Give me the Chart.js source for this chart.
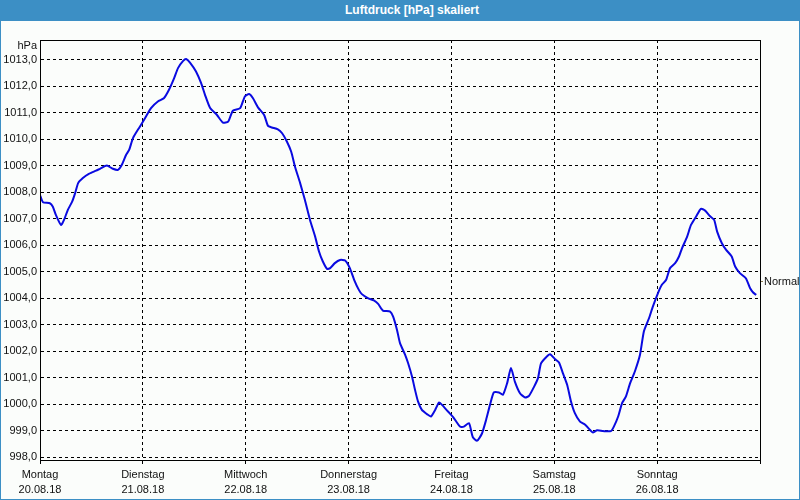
<!DOCTYPE html>
<html>
<head>
<meta charset="utf-8">
<script src="https://cdn.jsdelivr.net/npm/chart.js@4/dist/chart.umd.min.js"></script>
<style>
    html, body { margin: 0; padding: 0; background: #fbfdfb; }
    #wrap { position: relative; width: 800px; height: 500px; }
    #chart { position: absolute; left: 0; top: 0; }
    #title {
        position: absolute; left: 0; top: 0; width: 800px; height: 21px;
        box-sizing: border-box; padding-left: 24px;
        background: #3c8fc5; color: #fff;
        font: bold 12px "Liberation Sans", Arial, sans-serif;
        line-height: 21px; text-align: center;
    }
    #frame {
        position: absolute; left: 0; top: 0; width: 800px; height: 500px;
        box-sizing: border-box; border: 1px solid #3c8fc5; pointer-events: none;
    }
</style>
</head>
<body>
<div id="wrap">
    <canvas id="chart" width="800" height="500"></canvas>
    <div id="title">Luftdruck [hPa] skaliert</div>
    <div id="frame"></div>
</div>
<script>
// hours since Monday 20.08.18 00:00
const hours = [
    0.0, 0.7, 2.3, 3.0, 3.7, 4.9, 5.6, 6.5, 7.5, 8.2, 8.9, 10.0, 11.4, 13.1, 14.0, 15.6,
    17.0, 18.2, 19.1, 20.1, 20.8, 21.7, 23.3, 24.5, 25.9, 27.5, 28.9, 30.1, 31.3, 32.2,
    33.4, 34.1, 35.0, 36.4, 37.6, 38.5, 39.7, 41.3, 42.7, 43.9, 45.0, 46.7, 47.8, 48.8,
    49.7, 50.9, 52.3, 53.2, 54.1, 55.5, 56.5, 57.6, 58.6, 59.5, 60.7, 61.8, 63.0, 64.2,
    65.1, 66.0, 67.0, 67.7, 68.8, 70.0, 71.2, 72.3, 73.3, 74.4, 75.1, 76.5, 77.9, 78.9,
    80.0, 81.7, 82.4, 83.3, 84.0, 85.2, 85.9, 86.8, 87.5, 88.2, 89.1, 90.3, 91.2, 92.2,
    93.1, 93.8, 95.2, 96.4, 98.0, 98.9, 100.1, 101.0, 102.0, 103.1, 104.1, 105.0, 105.9,
    107.1, 108.0, 109.0, 109.9, 110.8, 112.0, 113.2, 114.1, 115.3, 116.2, 116.9, 118.1,
    119.0, 120.2, 121.1, 122.0, 123.0, 123.9, 124.8, 126.0, 127.2, 128.3, 129.0, 130.0,
    131.4, 133.2, 133.9, 134.9, 135.8, 136.7, 137.7, 138.8, 140.0, 140.9, 142.1, 143.0,
    144.2, 145.1, 146.1, 147.0, 148.2, 149.1, 149.8, 151.0, 151.9, 153.1, 154.2, 155.2,
    156.3, 157.3, 158.0, 159.1, 160.1, 161.4, 162.2, 163.3, 164.7, 165.7, 166.4, 167.1
];
const pressure = [
    1007.90, 1007.63, 1007.59, 1007.46, 1007.15, 1006.77, 1006.96, 1007.34, 1007.65, 1007.97, 1008.35, 1008.54, 1008.70, 1008.82, 1008.89, 1009.01,
    1008.89, 1008.85, 1009.04, 1009.42, 1009.60, 1010.05, 1010.48, 1010.80, 1011.18, 1011.43, 1011.55, 1011.87, 1012.31, 1012.69,
    1012.96, 1013.03, 1012.90, 1012.56, 1012.12, 1011.68, 1011.18, 1010.92, 1010.63, 1010.67, 1011.08, 1011.18, 1011.62, 1011.71,
    1011.55, 1011.20, 1010.92, 1010.51, 1010.45, 1010.38, 1010.23, 1009.92, 1009.54, 1008.97, 1008.35, 1007.72, 1006.96, 1006.33,
    1005.77, 1005.39, 1005.11, 1005.14, 1005.33, 1005.45, 1005.43, 1005.14, 1004.70, 1004.32, 1004.16, 1004.01, 1003.92, 1003.79,
    1003.54, 1003.50, 1003.31, 1002.81, 1002.31, 1001.87, 1001.55, 1001.05, 1000.55, 1000.11, 999.79, 999.63, 999.54, 999.79,
    1000.07, 999.98, 999.73, 999.52, 999.16, 999.16, 999.29, 998.76, 998.63, 998.89, 999.42, 999.98, 1000.45,
    1000.45, 1000.36, 1000.80, 1001.37, 1000.86, 1000.42, 1000.26, 1000.32, 1000.67, 1000.99, 1001.55, 1001.78,
    1001.89, 1001.70, 1001.58, 1001.18, 1000.74, 1000.11, 999.67, 999.35, 999.23, 999.04, 998.94, 999.02,
    998.99, 998.99, 999.16, 999.54, 1000.04, 1000.29, 1000.80, 1001.24, 1001.87, 1002.75, 1003.25, 1003.69,
    1004.20, 1004.51, 1004.70, 1005.14, 1005.33, 1005.58, 1005.89, 1006.33, 1006.77, 1007.09, 1007.38, 1007.31,
    1007.11, 1006.96, 1006.52, 1006.08, 1005.83, 1005.58, 1005.20, 1004.95, 1004.76, 1004.38, 1004.22, 1004.13
];

const dayNames = ["Montag", "Dienstag", "Mittwoch", "Donnerstag", "Freitag", "Samstag", "Sonntag"];
const dayDates = ["20.08.18", "21.08.18", "22.08.18", "23.08.18", "24.08.18", "25.08.18", "26.08.18"];
const yTicks = [998, 999, 1000, 1001, 1002, 1003, 1004, 1005, 1006, 1007, 1008, 1009, 1010, 1011, 1012, 1013];
const yMin = 997.9;
const yMax = 1013.75;
const normalValue = 1004.63;
const unitLabel = "hPa";

const FONT = "'Liberation Sans', Arial, sans-serif";
Chart.defaults.font.family = FONT;
Chart.defaults.font.size = 11;
Chart.defaults.color = "#111";

// solid frame round the plot + the unit text over the y labels
const framePlugin = {
    id: "frame",
    afterDraw(chart) {
        const { ctx, chartArea: a } = chart;
        ctx.save();
        ctx.strokeStyle = "#000";
        ctx.lineWidth = 1;
        ctx.strokeRect(Math.round(a.left) + 0.5, Math.round(a.top) + 0.5,
            Math.round(a.right - a.left), Math.round(a.bottom - a.top));
        ctx.fillStyle = "#111";
        ctx.font = "11px " + FONT;
        ctx.textAlign = "right";
        ctx.textBaseline = "middle";
        ctx.fillText(unitLabel, a.left - 3, a.top + 6);
        ctx.restore();
    }
};

new Chart(document.getElementById("chart"), {
    type: "line",
    data: {
        datasets: [{
            data: hours.map((h, i) => ({ x: h, y: pressure[i] })),
            borderColor: "#0a0ae0",
            borderWidth: 2,
            pointRadius: 0,
            tension: 0.2,
            fill: false
        }]
    },
    options: {
        responsive: false,
        animation: false,
        layout: { padding: { top: 40, left: 0, right: 0, bottom: 0 } },
        plugins: {
            legend: { display: false },
            tooltip: { enabled: false }
        },
        scales: {
            x: {
                type: "linear",
                min: 0,
                max: 168,
                afterBuildTicks: s => { s.ticks = dayNames.map((d, i) => ({ value: i * 24 })).concat([{ value: 168 }]); },
                afterFit: s => { s.height = 40; },
                grid: { color: "#000", lineWidth: 1, tickLength: 4 },
                border: { display: true, color: "#000", dash: [3, 3] },
                ticks: {
                    maxRotation: 0,
                    autoSkip: false,
                    padding: 3,
                    font: { size: 11, lineHeight: 1.4 },
                    callback: v => {
                        const i = Math.round(v / 24);
                        return i < dayNames.length ? [dayNames[i], dayDates[i]] : "";
                    }
                }
            },
            y: {
                position: "left",
                min: yMin,
                max: yMax,
                afterBuildTicks: s => { s.ticks = yTicks.map(v => ({ value: v })); },
                afterFit: s => { s.width = 40; },
                grid: { color: "#000", lineWidth: 1, drawTicks: false },
                border: { display: true, color: "#000", dash: [3, 3] },
                ticks: {
                    padding: 3,
                    callback: v => v.toFixed(1).replace(".", ",")
                }
            },
            y2: {
                position: "right",
                min: yMin,
                max: yMax,
                afterBuildTicks: s => { s.ticks = [{ value: normalValue }]; },
                afterFit: s => { s.width = 40; },
                grid: { drawOnChartArea: false, drawTicks: true, tickLength: 3, color: "#8a7a50" },
                border: { display: true, color: "#000" },
                ticks: {
                    padding: 1,
                    callback: () => "Normal"
                }
            }
        }
    },
    plugins: [framePlugin]
});
</script>
</body>
</html>
